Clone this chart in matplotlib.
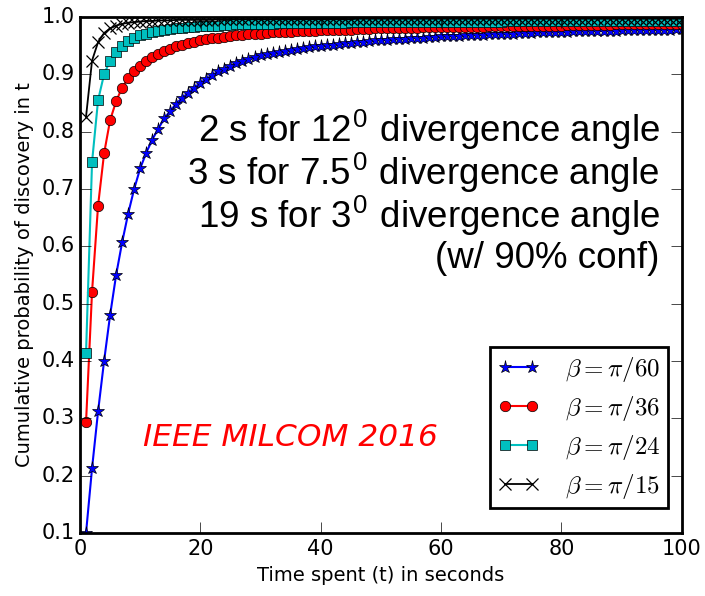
import numpy as np
import matplotlib
matplotlib.use("Agg")
import matplotlib.pyplot as plt

plt.style.use("classic")
plt.rcParams["mathtext.fontset"] = "cm"
plt.rcParams["font.family"] = "DejaVu Sans"

t = list(range(1, 101))

p_60 = [
    0.100, 0.213, 0.312, 0.400, 0.480, 0.550, 0.607, 0.657, 0.700, 0.736,
    0.763, 0.786, 0.805, 0.823, 0.836, 0.849, 0.859, 0.868, 0.877, 0.885,
    0.892, 0.899, 0.905, 0.910, 0.915, 0.919, 0.923, 0.927, 0.930, 0.933,
    0.935, 0.937, 0.939, 0.941, 0.943, 0.944, 0.946, 0.947, 0.949, 0.950,
    0.951, 0.952, 0.953, 0.954, 0.955, 0.956, 0.957, 0.958, 0.959, 0.960,
    0.960, 0.961, 0.962, 0.962, 0.963, 0.964, 0.964, 0.965, 0.965, 0.966,
    0.966, 0.967, 0.967, 0.968, 0.968, 0.969, 0.969, 0.970, 0.970, 0.970,
    0.971, 0.971, 0.972, 0.972, 0.972, 0.973, 0.973, 0.973, 0.974, 0.974,
    0.974, 0.975, 0.975, 0.975, 0.975, 0.976, 0.976, 0.976, 0.976, 0.977,
    0.977, 0.977, 0.977, 0.978, 0.978, 0.978, 0.978, 0.978, 0.979, 0.979,
]
p_36 = [
    0.293, 0.521, 0.671, 0.762, 0.820, 0.853, 0.877, 0.893, 0.905, 0.915,
    0.923, 0.930, 0.936, 0.941, 0.945, 0.949, 0.952, 0.955, 0.957, 0.959,
    0.961, 0.963, 0.964, 0.965, 0.967, 0.968, 0.969, 0.970, 0.970, 0.971,
    0.972, 0.973, 0.973, 0.974, 0.974, 0.975, 0.975, 0.976, 0.976, 0.977,
    0.977, 0.977, 0.978, 0.978, 0.978, 0.979, 0.979, 0.979, 0.980, 0.980,
    0.980, 0.980, 0.981, 0.981, 0.981, 0.981, 0.982, 0.982, 0.982, 0.982,
    0.982, 0.983, 0.983, 0.983, 0.983, 0.983, 0.983, 0.984, 0.984, 0.984,
    0.984, 0.984, 0.984, 0.985, 0.985, 0.985, 0.985, 0.985, 0.985, 0.985,
    0.986, 0.986, 0.986, 0.986, 0.986, 0.986, 0.986, 0.986, 0.987, 0.987,
    0.987, 0.987, 0.987, 0.987, 0.987, 0.987, 0.987, 0.988, 0.988, 0.988,
]
p_24 = [
    0.414, 0.747, 0.855, 0.900, 0.924, 0.939, 0.950, 0.958, 0.964, 0.968,
    0.971, 0.974, 0.976, 0.978, 0.979, 0.980, 0.981, 0.982, 0.983, 0.984,
    0.984, 0.985, 0.985, 0.986, 0.986, 0.987, 0.987, 0.987, 0.988, 0.988,
    0.988, 0.988, 0.989, 0.989, 0.989, 0.989, 0.989, 0.990, 0.990, 0.990,
    0.990, 0.990, 0.990, 0.990, 0.991, 0.991, 0.991, 0.991, 0.991, 0.991,
    0.991, 0.991, 0.991, 0.991, 0.992, 0.992, 0.992, 0.992, 0.992, 0.992,
    0.992, 0.992, 0.992, 0.992, 0.992, 0.992, 0.992, 0.992, 0.992, 0.992,
    0.993, 0.993, 0.993, 0.993, 0.993, 0.993, 0.993, 0.993, 0.993, 0.993,
    0.993, 0.993, 0.993, 0.993, 0.993, 0.993, 0.993, 0.993, 0.993, 0.993,
    0.993, 0.993, 0.993, 0.993, 0.993, 0.993, 0.993, 0.993, 0.993, 0.993,
]
p_15 = [
    0.826, 0.924, 0.956, 0.972, 0.980, 0.985, 0.988, 0.990, 0.991, 0.992,
    0.993, 0.993, 0.994, 0.994, 0.994, 0.995, 0.995, 0.995, 0.995, 0.995,
    0.995, 0.995, 0.996, 0.996, 0.996, 0.996, 0.996, 0.996, 0.996, 0.996,
    0.996, 0.996, 0.996, 0.996, 0.996, 0.996, 0.996, 0.996, 0.996, 0.996,
    0.996, 0.996, 0.996, 0.996, 0.996, 0.997, 0.997, 0.997, 0.997, 0.997,
    0.997, 0.997, 0.997, 0.997, 0.997, 0.997, 0.997, 0.997, 0.997, 0.997,
    0.997, 0.997, 0.997, 0.997, 0.997, 0.997, 0.997, 0.997, 0.997, 0.997,
    0.997, 0.997, 0.997, 0.997, 0.997, 0.997, 0.997, 0.997, 0.997, 0.997,
    0.997, 0.997, 0.997, 0.997, 0.997, 0.997, 0.997, 0.997, 0.997, 0.997,
    0.997, 0.997, 0.997, 0.997, 0.997, 0.997, 0.997, 0.997, 0.997, 0.997,
]

labels = [r"$\beta=\pi/60$", r"$\beta=\pi/36$", r"$\beta=\pi/24$", r"$\beta=\pi/15$"]

notes = [
    r"2 s for 12$^{\mathregular{0}}$ divergence angle",
    r"3 s for 7.5$^{\mathregular{0}}$ divergence angle",
    r"19 s for 3$^{\mathregular{0}}$ divergence angle",
    "(w/ 90% conf)",
]

fig = plt.figure(figsize=(7.05, 5.96), dpi=100, facecolor="white")
ax = fig.add_axes([0.1135, 0.1057, 0.8535, 0.8658])

ax.plot(t, p_60, "b-*", lw=1.5, ms=9.5, mec="k", mew=0.5, label=labels[0])
ax.plot(t, p_36, "r-o", lw=1.5, ms=7.5, mec="k", mew=0.5, label=labels[1])
ax.plot(t, p_24, "c-s", lw=1.5, ms=6.5, mec="k", mew=0.5, label=labels[2])
ax.plot(t, p_15, "k-x", lw=1.3, ms=8, mew=0.9, label=labels[3])

ax.set_xlim(0, 100)
ax.set_ylim(0.1, 1.0)
ax.set_xticks(np.arange(0, 101, 20))
ax.set_yticks(np.arange(0.1, 1.01, 0.1))
ax.tick_params(labelsize=15, direction="in", length=8)
for sp in ax.spines.values():
    sp.set_linewidth(2)

ax.set_xlabel("Time spent (t) in seconds", fontsize=14)
ax.set_ylabel("Cumulative probability of discovery in t", fontsize=14)

leg = ax.legend(loc="lower right", bbox_to_anchor=(0.977, 0.048), fontsize=18,
                numpoints=2, fancybox=False, borderaxespad=0, borderpad=0.3,
                handlelength=1.7, handletextpad=1.0, labelspacing=0.4)
leg.get_frame().set_linewidth(2)
leg.get_frame().set_edgecolor("k")

for i, s in enumerate(notes):
    ax.text(0.963, 0.781 - i * 0.0833, s, transform=ax.transAxes, ha="right", va="center",
            fontsize=26.5, family="Liberation Sans")

ax.text(0.105, 0.185, "IEEE MILCOM 2016", transform=ax.transAxes, color="red",
        fontsize=22.5, style="italic", ha="left", va="center")

fig.savefig("out.png", dpi=100, facecolor="white")
